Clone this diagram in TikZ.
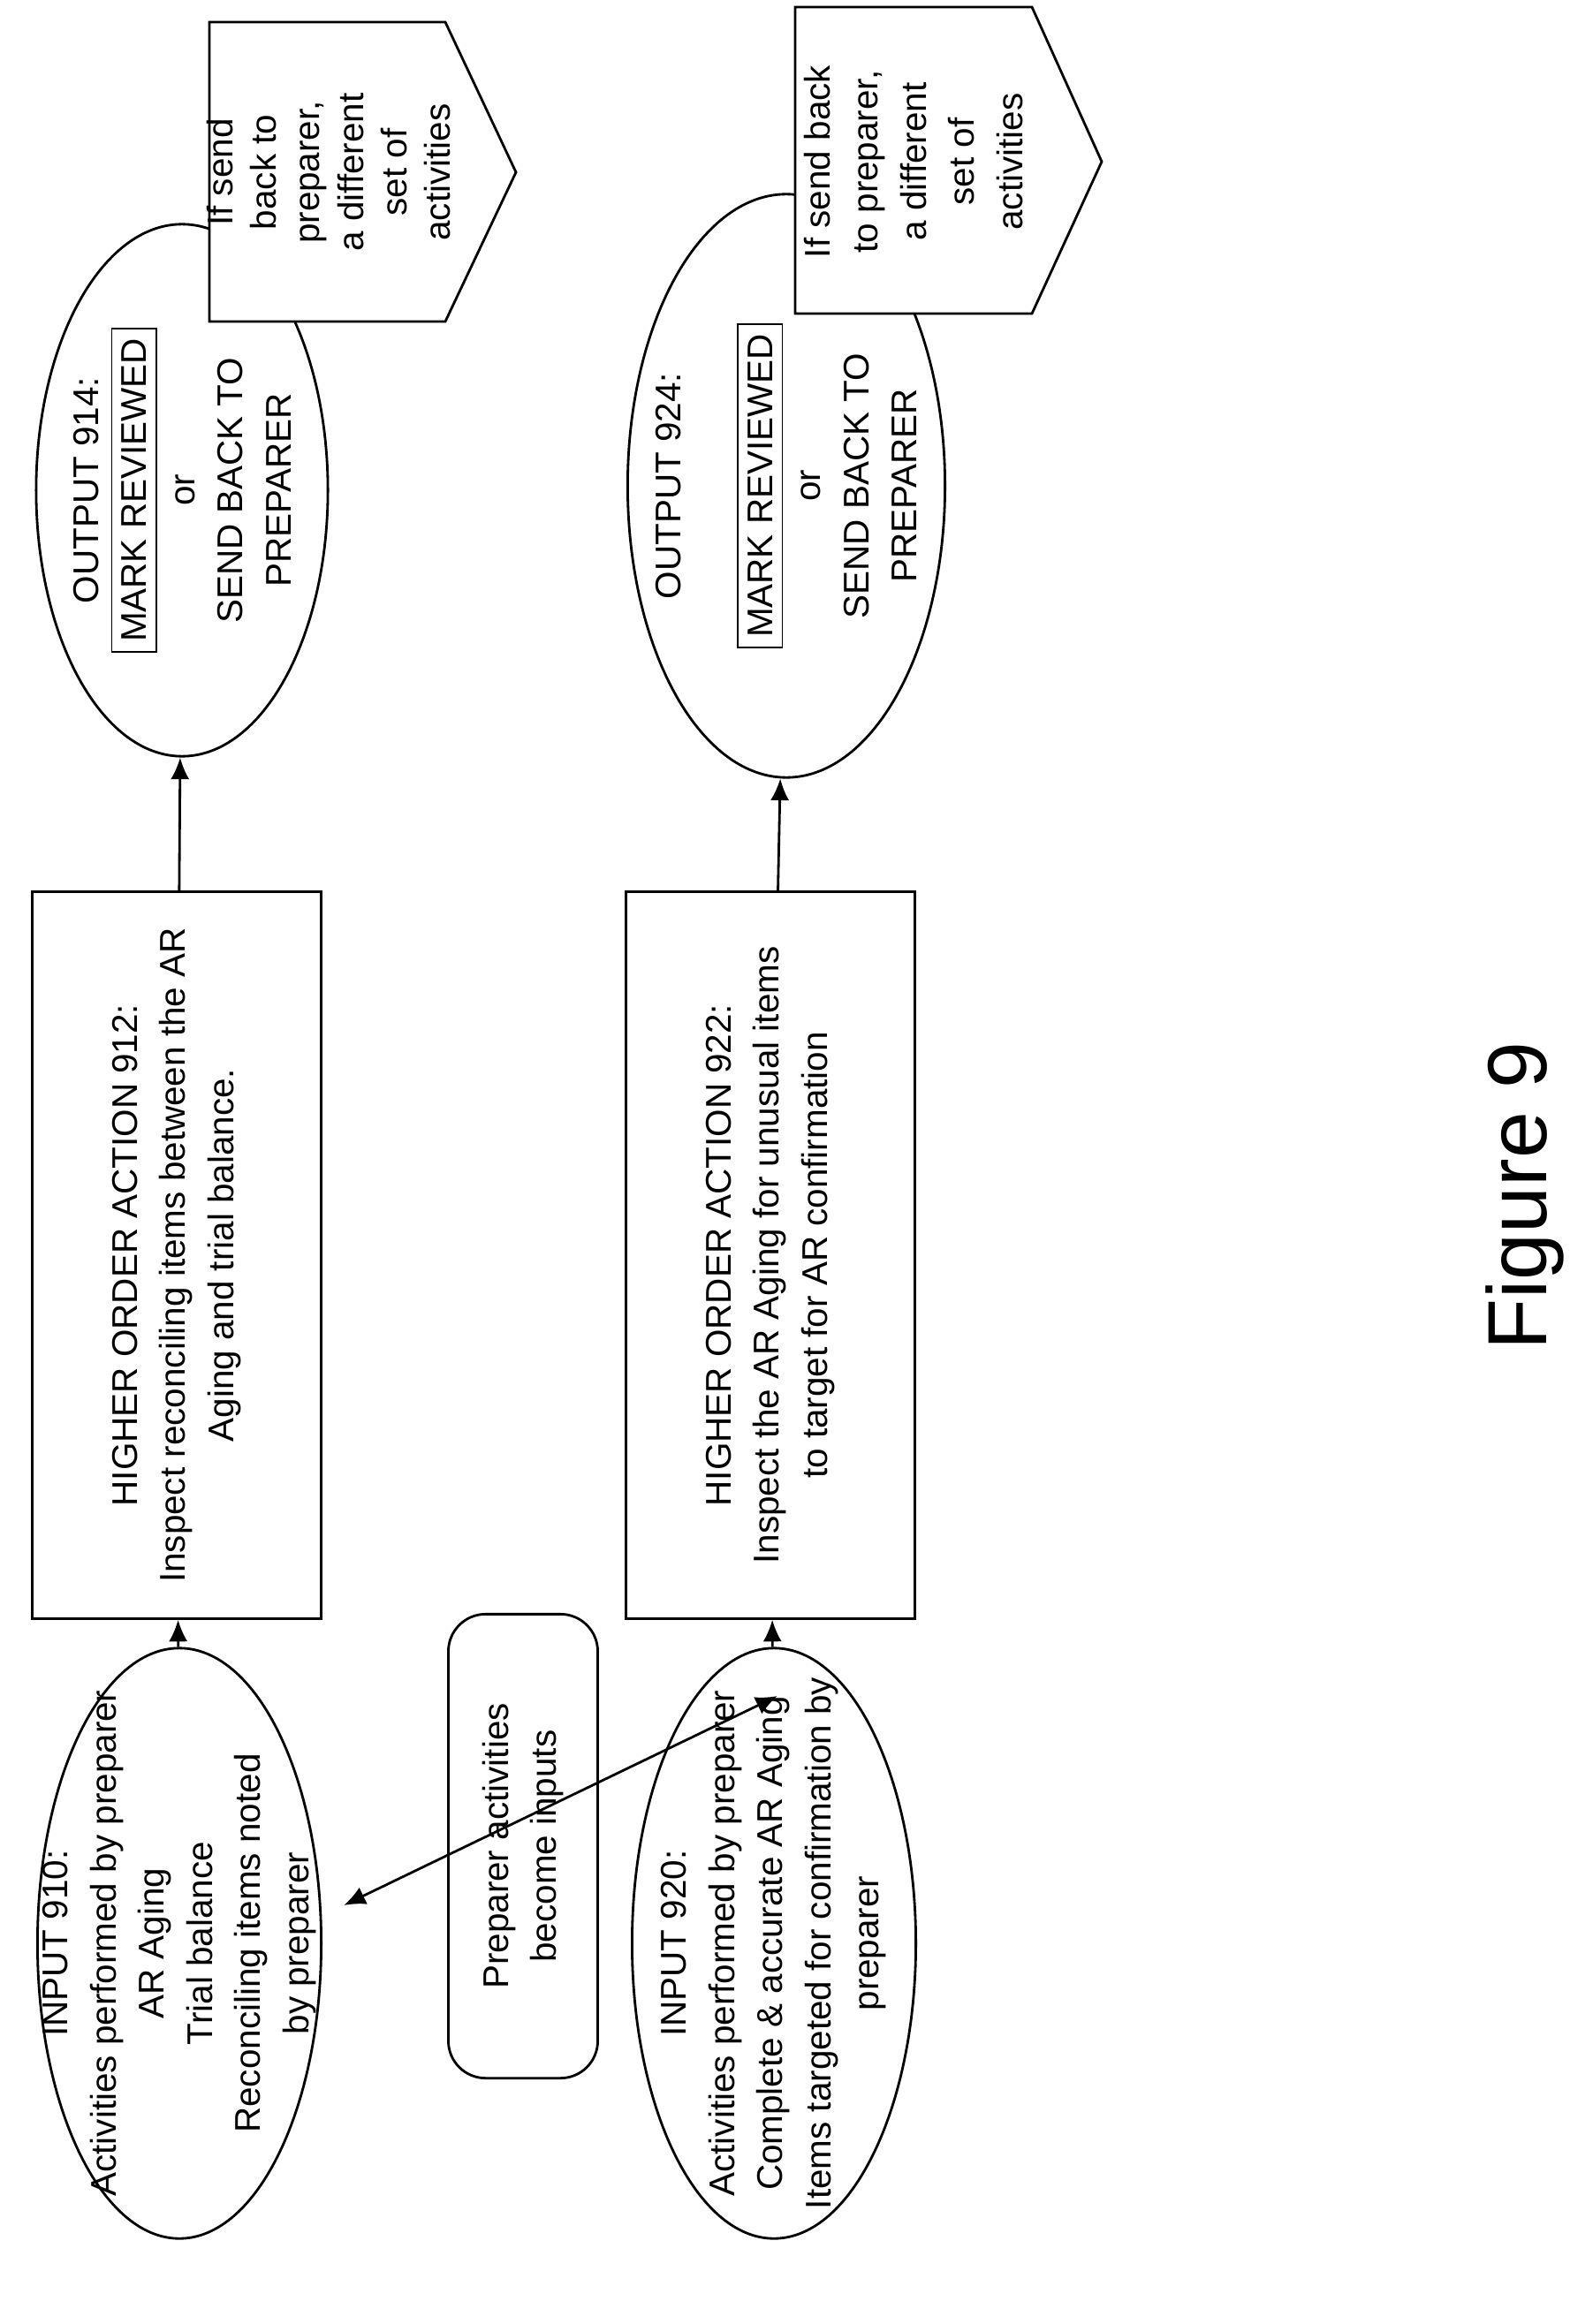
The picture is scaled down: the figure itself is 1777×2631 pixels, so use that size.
\documentclass[tikz,border=0pt]{standalone}
\usepackage{fontspec}
\setmainfont{Liberation Sans}
\usetikzlibrary{shapes.geometric,arrows.meta}
\tikzset{
  txt/.style={font=\fontsize{11.5}{15.5}\selectfont, align=center, rotate=90},
  oval/.style={draw, thick, ellipse, rotate=90, inner sep=0pt},
  block/.style={txt, draw, thick, inner sep=0pt},
  arr/.style={-{Latex[length=7pt,width=6pt]}, thick}
}
\begin{document}
\begin{tikzpicture}[x=0.01cm,y=-0.01cm]
  \useasboundingbox (0,0) rectangle (1777,2631);
  % inputs
  \node[oval, minimum width=6.68cm, minimum height=3.21cm] (in910) at (203,2200) {};
  \node[txt] (in910t) at (in910) {INPUT 910:\\Activities performed by preparer\\AR Aging\\Trial balance\\Reconciling items noted\\by preparer};
  \node[oval, minimum width=6.68cm, minimum height=3.21cm] (in920) at (876,2200) {};
  \node[txt] (in920t) at (in920) {INPUT 920:\\Activities performed by preparer\\Complete \& accurate AR Aging\\Items targeted for confirmation by\\preparer};
  \node[block, rounded corners=12pt, minimum width=5.25cm, minimum height=1.69cm] (prep) at (592,2090)
    {Preparer activities\\become inputs};
  % actions
  \node[block, minimum width=8.22cm, minimum height=3.27cm] (act912) at (200,1421)
    {HIGHER ORDER ACTION 912:\\Inspect reconciling items between the AR\\Aging and trial balance.};
  \node[block, minimum width=8.22cm, minimum height=3.27cm] (act922) at (872,1421)
    {HIGHER ORDER ACTION 922:\\Inspect the AR Aging for unusual items\\to target for AR confirmation};
  % outputs
  \node[oval, minimum width=6.02cm, minimum height=3.3cm] (out914) at (206,555) {};
  \node[txt] (out914t) at (out914) {OUTPUT 914:\\\fbox{MARK REVIEWED}\\or\\SEND BACK TO\\PREPARER};
  \node[oval, minimum width=6.6cm, minimum height=3.59cm] (out924) at (890,550) {};
  \node[txt] (out924t) at (out924) {OUTPUT 924:\\[14pt]\fbox{MARK REVIEWED}\\or\\SEND BACK TO\\PREPARER};
  % callouts
  \draw[thick, fill=white] (237,25) -- (504,25) -- (584,195) -- (504,364) -- (237,364) -- cycle;
  \node[txt, font=\fontsize{11.5}{14}\selectfont] (note914) at (372,195) {If send\\back to\\preparer,\\a different\\set of\\activities};
  \draw[thick, fill=white] (900,8) -- (1168,8) -- (1247,183) -- (1168,355) -- (900,355) -- cycle;
  \node[txt] (note924) at (1034,183) {If send back\\to preparer,\\a different\\set of\\activities};
  % connectors
  \draw[arr] (in910) -- (act912);
  \draw[arr] (act912) -- (out914);
  \draw[arr] (in920) -- (act922);
  \draw[arr] (act922) -- (out924);
  \coordinate (p1) at (389,2157);
  \coordinate (p2) at (880,1920);
  \draw[{Latex[length=7pt,width=6pt]}-{Latex[length=7pt,width=6pt]}, thick] (p1) -- (p2);
  \node[rotate=90, font=\fontsize{27}{30}\selectfont] (fig) at (1726,1354) {Figure 9};
\end{tikzpicture}
\end{document}
